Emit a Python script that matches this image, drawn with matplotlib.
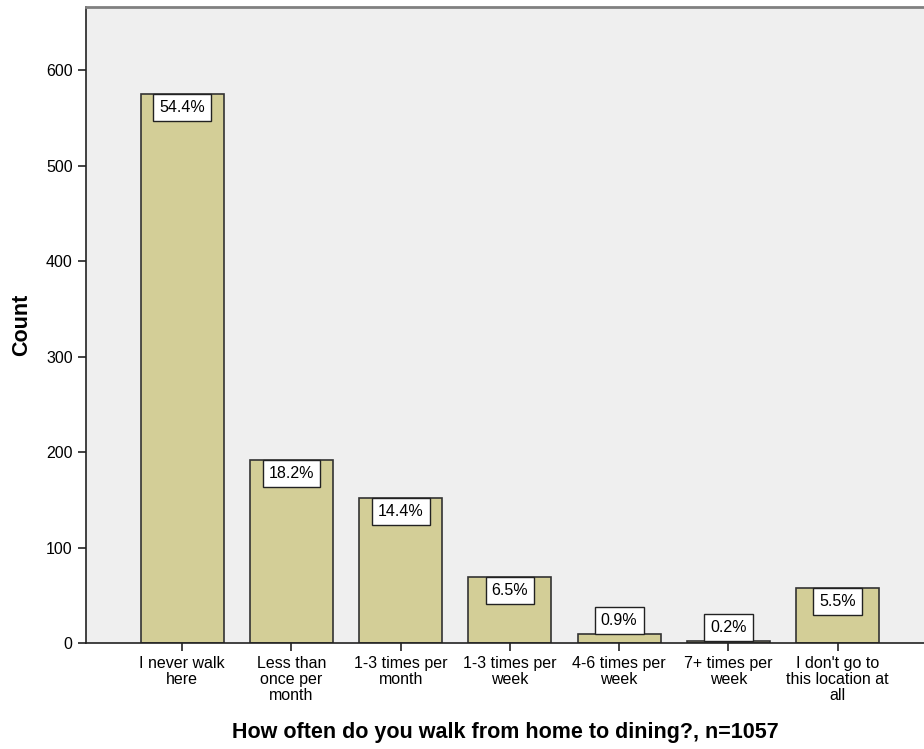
import numpy as np
import matplotlib
matplotlib.use("Agg")
from matplotlib import pyplot as plt

plt.rcParams['font.family'] = ['Liberation Sans', 'DejaVu Sans']

categories = ["I never walk\nhere", "Less than\nonce per\nmonth", "1-3 times per\nmonth",
              "1-3 times per\nweek", "4-6 times per\nweek", "7+ times per\nweek",
              "I don't go to\nthis location at\nall"]
counts = [575, 192, 152, 69, 9, 2, 58]
pct_labels = ["54.4%", "18.2%", "14.4%", "6.5%", "0.9%", "0.2%", "5.5%"]

fig = plt.figure(figsize=(9.24, 7.49), dpi=100)
ax = fig.add_axes([0.093, 0.1415, 0.907, 0.849])
ax.set_facecolor('#efefef')

x = np.arange(len(categories))
ax.bar(x, counts, width=0.76, color='#d3ce97', edgecolor='#333333', linewidth=1.2, zorder=2)

fs = 11.5
pad = 0.38
for xi, c, lab in zip(x, counts, pct_labels):
    va = 'top' if c > 30 else 'bottom'
    off = -pad * fs if va == 'top' else pad * fs
    ax.annotate(lab, (xi, c), xytext=(0, off), textcoords='offset points',
                ha='center', va=va, fontsize=fs, zorder=3,
                bbox=dict(boxstyle='square,pad=%s' % pad, fc='white', ec='#222222', lw=1.0))

ax.set_xlim(-0.88, 6.79)
ax.set_ylim(0, 666)
ax.set_yticks([0, 100, 200, 300, 400, 500, 600])
ax.set_xticks(x)
ax.set_xticklabels(categories, fontsize=11.5, linespacing=1.1)
ax.tick_params(axis='y', labelsize=11.5, length=6, width=1.2, direction='out', color='#222222')
ax.tick_params(axis='x', length=6, width=1.2, direction='out', color='#222222', pad=3)

ax.spines['right'].set_visible(False)
ax.spines['top'].set_color('#808080')
ax.spines['top'].set_linewidth(2)
ax.spines['left'].set_color('#222222')
ax.spines['bottom'].set_color('#222222')
ax.spines['left'].set_linewidth(1.2)
ax.spines['bottom'].set_linewidth(1.2)

ax.set_ylabel("Count", fontsize=15.5, fontweight='bold', labelpad=10)
ax.set_xlabel("How often do you walk from home to dining?, n=1057", fontsize=15.5,
              fontweight='bold', labelpad=14)

fig.savefig("out.png", dpi=100)
